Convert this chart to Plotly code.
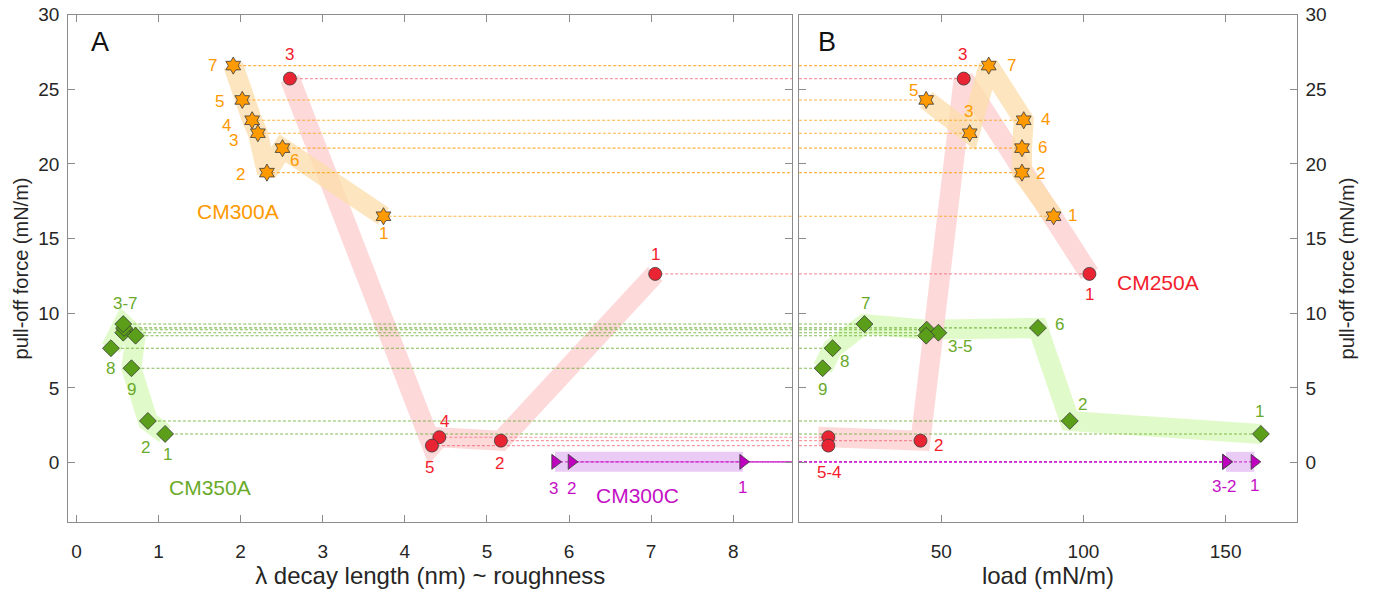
import plotly.graph_objects as go

# ---------------- data ----------------
# CM300A (orange stars), experiment ids 1..7
cm300a_ids = ["1", "2", "3", "4", "5", "6", "7"]
cm300a_lambda = [3.74, 2.32, 2.21, 2.14, 2.02, 2.51, 1.91]
cm300a_load = [89.5, 78.4, 60.0, 79.0, 44.7, 78.4, 66.7]
cm300a_force = [16.50, 19.42, 22.06, 22.93, 24.29, 21.06, 26.59]

# CM250A (red circles), ids 1..5
cm250a_ids = ["1", "2", "3", "4", "5"]
cm250a_lambda = [7.05, 5.17, 2.60, 4.42, 4.33]
cm250a_load = [102.1, 42.7, 57.9, 10.3, 10.3]
cm250a_force = [12.64, 1.47, 25.72, 1.70, 1.14]

# CM350A (green diamonds), ids 1..9
cm350a_ids = ["1", "2", "3", "4", "5", "6", "7", "8", "9"]
cm350a_lambda = [1.08, 0.87, 0.59, 0.57, 0.72, 0.58, 0.57, 0.42, 0.67]
cm350a_load = [162.4, 95.2, 44.9, 49.0, 44.7, 84.0, 23.0, 11.8, 8.3]
cm350a_force = [1.92, 2.79, 8.90, 8.70, 8.50, 9.02, 9.28, 7.66, 6.32]

# CM300C (magenta triangles), ids 1..3
cm300c_ids = ["1", "2", "3"]
cm300c_lambda = [8.12, 6.03, 5.83]
cm300c_load = [160.1, 150.1, 150.1]
cm300c_force = [0.05, 0.05, 0.05]

# order in which the shaded guide bands connect the points (ids)
band_A = {"CM250A": ["3", "5", "4", "2", "1"],
          "CM350A": ["8", "7", "5", "9", "2", "1"],
          "CM300C": ["3", "1"],
          "CM300A": ["7", "5", "4", "3", "2", "6", "1"]}
band_B = {"CM350A": ["9", "8", "7", "3", "6", "2", "1"],
          "CM250A": ["1", "3", "2", "4", "5"],
          "CM300C": ["2", "1"],
          "CM300A": ["5", "3", "7", "4", "6", "2", "1"]}

# point labels shown in each panel: id -> text
labels_A = {"CM300A": {"1": "1", "2": "2", "3": "3", "4": "4", "5": "5", "6": "6", "7": "7"},
            "CM250A": {"1": "1", "2": "2", "3": "3", "4": "4", "5": "5"},
            "CM350A": {"1": "1", "2": "2", "7": "3-7", "8": "8", "9": "9"},
            "CM300C": {"1": "1", "2": "2", "3": "3"}}
labels_B = {"CM300A": {"1": "1", "2": "2", "3": "3", "4": "4", "5": "5", "6": "6", "7": "7"},
            "CM250A": {"1": "1", "2": "2", "3": "3", "5": "5-4"},
            "CM350A": {"1": "1", "2": "2", "3": "3-5", "6": "6", "7": "7", "8": "8", "9": "9"},
            "CM300C": {"1": "1", "2": "3-2"}}

x_ticks_A = [0, 1, 2, 3, 4, 5, 6, 7, 8]
x_ticks_B = [50, 100, 150]
y_ticks = [0, 5, 10, 15, 20, 25, 30]

# ---------------- styles ----------------
FONT = "Liberation Sans, Arial, sans-serif"
XR_A = [-0.1, 8.72]
XR_B = [0, 175]
YR = [-4, 30]

series = {
    "CM300A": dict(ids=cm300a_ids, lam=cm300a_lambda, load=cm300a_load, f=cm300a_force,
                   symbol="hexagram", size=13, fill="#FF9A00", text="#FF9900",
                   band="rgba(252,222,170,0.75)", dash="rgba(255,160,20,0.8)"),
    "CM250A": dict(ids=cm250a_ids, lam=cm250a_lambda, load=cm250a_load, f=cm250a_force,
                   symbol="circle", size=13, fill="#EA2533", text="#F2202C",
                   band="rgba(253,210,212,0.85)", dash="rgba(240,70,90,0.55)"),
    "CM350A": dict(ids=cm350a_ids, lam=cm350a_lambda, load=cm350a_load, f=cm350a_force,
                   symbol="diamond", size=13, fill="#5A9E1A", text="#6AAA2A",
                   band="rgba(222,250,195,0.9)", dash="rgba(100,170,40,0.8)"),
    "CM300C": dict(ids=cm300c_ids, lam=cm300c_lambda, load=cm300c_load, f=cm300c_force,
                   symbol="triangle-right", size=13, fill="#BF00BF", text="#C410C4",
                   band="rgba(232,200,244,0.95)", dash="rgba(205,30,205,0.85)"),
}

# label offsets (pixels: dx right, dy down)
off_A = {"CM300A": {"1": (0, 17), "2": (-26, 2), "3": (-24, 7), "4": (-26, 5), "5": (-23, 2), "6": (12, 12), "7": (-21, 0)},
         "CM250A": {"1": (0, -19), "2": (-1, 23), "3": (0, -24), "4": (5, -16), "5": (-2, 22)},
         "CM350A": {"1": (2, 21), "2": (-2, 27), "7": (2, -21), "8": (0, 20), "9": (0, 21)},
         "CM300C": {"1": (-1, 26), "2": (0, 27), "3": (-2, 27)}}
off_B = {"CM300A": {"1": (19, -1), "2": (18, 1), "3": (-1, -22), "4": (22, -1), "5": (-13, -9), "6": (20, -1), "7": (23, 0)},
         "CM250A": {"1": (0, 21), "2": (18, 5), "3": (-1, -24), "5": (1, 27)},
         "CM350A": {"1": (-1, -22), "2": (13, -16), "3": (34, 17), "6": (22, -3), "7": (1, -21), "8": (12, 13), "9": (0, 21)},
         "CM300C": {"1": (0, 24), "2": (-1, 25)}}

fig = go.Figure()


def pt(s, pid, key):
    i = s["ids"].index(pid)
    return s[key][i], s["f"][i]


# bands
for panel, bands, key, xa, ya in (("A", band_A, "lam", "x", "y"), ("B", band_B, "load", "x2", "y2")):
    for name, path in bands.items():
        s = series[name]
        xs = [pt(s, p, key)[0] for p in path]
        ys = [pt(s, p, key)[1] for p in path]
        fig.add_trace(go.Scatter(x=xs, y=ys, mode="lines", xaxis=xa, yaxis=ya,
                                 line=dict(color=s["band"], width=20), hoverinfo="skip",
                                 showlegend=False))

# dashed connectors: panel A from point to right edge, panel B from left edge to point
for name, s in series.items():
    xs, ys = [], []
    for lam, f in zip(s["lam"], s["f"]):
        xs += [lam, XR_A[1], None]
        ys += [f, f, None]
    fig.add_trace(go.Scatter(x=xs, y=ys, mode="lines", xaxis="x", yaxis="y",
                             line=dict(color=s["dash"], width=1.1, dash="3px,2px"),
                             hoverinfo="skip", showlegend=False))
    xs, ys = [], []
    for ld, f in zip(s["load"], s["f"]):
        xs += [XR_B[0], ld, None]
        ys += [f, f, None]
    fig.add_trace(go.Scatter(x=xs, y=ys, mode="lines", xaxis="x2", yaxis="y2",
                             line=dict(color=s["dash"], width=1.1, dash="3px,2px"),
                             hoverinfo="skip", showlegend=False))

# markers
for name, s in series.items():
    mk = dict(symbol=s["symbol"], size=s["size"], color=s["fill"],
              line=dict(color="#3a3a3a", width=0.8))
    fig.add_trace(go.Scatter(x=s["lam"], y=s["f"], mode="markers", xaxis="x", yaxis="y",
                             marker=mk, name=name, showlegend=False))
    fig.add_trace(go.Scatter(x=s["load"], y=s["f"], mode="markers", xaxis="x2", yaxis="y2",
                             marker=mk, name=name, showlegend=False))

ann = []
for labels, offs, key, xr, yr in ((labels_A, off_A, "lam", "x", "y"), (labels_B, off_B, "load", "x2", "y2")):
    for name, lab in labels.items():
        s = series[name]
        for pid, txt in lab.items():
            x, y = pt(s, pid, key)
            dx, dy = offs[name][pid]
            ann.append(dict(x=x, y=y, xref=xr, yref=yr, text=txt, showarrow=False,
                            xanchor="center", yanchor="middle",
                            xshift=dx, yshift=-dy, font=dict(size=17, color=s["text"], family=FONT)))

# series names
for txt, x, y, xr, yr in (("CM300A", 1.97, 16.8, "x", "y"), ("CM350A", 1.63, -1.7, "x", "y"),
                          ("CM300C", 6.83, -2.22, "x", "y"), ("CM250A", 126.2, 12.04, "x2", "y2")):
    ann.append(dict(x=x, y=y, xref=xr, yref=yr, text=txt, showarrow=False,
                    xanchor="center", yanchor="middle",
                    font=dict(size=21, color=series[txt]["text"], family=FONT)))

# panel letters
ann.append(dict(x=0.044, y=0.946, xref="x domain", yref="y domain", text="A", showarrow=False,
                xanchor="center", yanchor="middle", font=dict(size=27, color="#111", family=FONT)))
ann.append(dict(x=0.056, y=0.946, xref="x2 domain", yref="y2 domain", text="B", showarrow=False,
                xanchor="center", yanchor="middle", font=dict(size=27, color="#111", family=FONT)))

AX = dict(showline=True, linecolor="#8c8c8c", linewidth=1, mirror="ticks", ticks="inside",
          ticklen=7, tickcolor="#8c8c8c", tickwidth=1, showgrid=False, zeroline=False,
          tickfont=dict(size=19, color="#262626", family=FONT))
YTITLE_FONT = dict(size=20, color="#262626", family=FONT)
XTITLE_FONT = dict(size=24, color="#262626", family=FONT)

fig.update_layout(
    width=1376, height=592, margin=dict(l=0, r=0, t=0, b=0),
    paper_bgcolor="white", plot_bgcolor="white", showlegend=False,
    annotations=ann,
    xaxis=dict(AX, domain=[0.0496, 0.5758], range=XR_A, tickvals=x_ticks_A, anchor="y",
               ticklabelstandoff=12, automargin=False,
               title=dict(text="λ decay length (nm) ~ roughness", font=XTITLE_FONT, standoff=4)),
    yaxis=dict(AX, domain=[0.1177, 0.9752], range=YR, tickvals=y_ticks, anchor="x",
               ticklabelstandoff=4, automargin=False,
               title=dict(text="pull-off force (mN/m)", font=YTITLE_FONT, standoff=4)),
    xaxis2=dict(AX, domain=[0.5807, 0.9424], range=XR_B, tickvals=x_ticks_B, anchor="y2",
                ticklabelstandoff=12, automargin=False,
                title=dict(text="load (mN/m)", font=XTITLE_FONT, standoff=4)),
    yaxis2=dict(AX, domain=[0.1177, 0.9752], range=YR, tickvals=y_ticks, anchor="x2",
                side="right", ticklabelstandoff=4, automargin=False,
                title=dict(text="pull-off force (mN/m)", font=YTITLE_FONT, standoff=14)),
)

fig.write_html("out.html")
